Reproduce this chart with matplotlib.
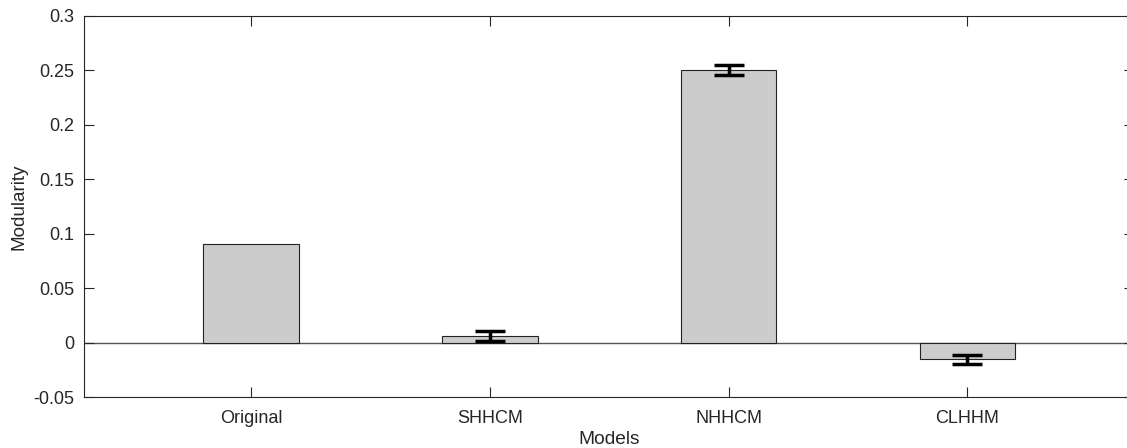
import matplotlib
matplotlib.use('Agg')
import matplotlib.pyplot as plt
import numpy as np

models = ['Original', 'SHHCM', 'NHHCM', 'CLHHM']
modularity = [0.09, 0.006, 0.25, -0.0155]
errors = [0.0, 0.005, 0.005, 0.0045]

plt.rcParams['font.family'] = ['Liberation Sans', 'DejaVu Sans']
axcol = '#262626'

fig = plt.figure(figsize=(11.27, 4.48), dpi=100)
ax = fig.add_axes([0.0745, 0.1138, 0.9321, 0.8516])

x = np.arange(1, len(models) + 1)
ax.bar(x, modularity, width=0.4, color='#cccccc', edgecolor='#222222', linewidth=0.8, zorder=2)
ax.axhline(0, color='#555555', linewidth=1.0, zorder=1)

# no error bar on the original
ex = x[1:]
ax.errorbar(ex, modularity[1:], yerr=errors[1:], fmt='none', ecolor='black',
            elinewidth=2.5, capsize=10.5, capthick=2.5, zorder=3)

ax.set_xlim(0.3, 4.7)
ax.set_ylim(-0.05, 0.3)
ax.set_xticks(x)
ax.set_xticklabels(models)
ax.set_yticks([-0.05, 0, 0.05, 0.1, 0.15, 0.2, 0.25, 0.3])
ax.set_yticklabels(['-0.05', '0', '0.05', '0.1', '0.15', '0.2', '0.25', '0.3'])
ax.tick_params(direction='in', length=7, width=0.8, colors=axcol, labelsize=13,
               top=True, right=True, labelcolor=axcol)
ax.tick_params(axis='x', pad=9.5)
ax.tick_params(axis='y', pad=7)
for s in ax.spines.values():
    s.set_color(axcol)
    s.set_linewidth(0.8)

ax.set_xlabel('Models', fontsize=13.8, color=axcol, labelpad=3)
ax.set_ylabel('Modularity', fontsize=13.6, color=axcol, labelpad=4)

fig.savefig('out.png', dpi=100)
